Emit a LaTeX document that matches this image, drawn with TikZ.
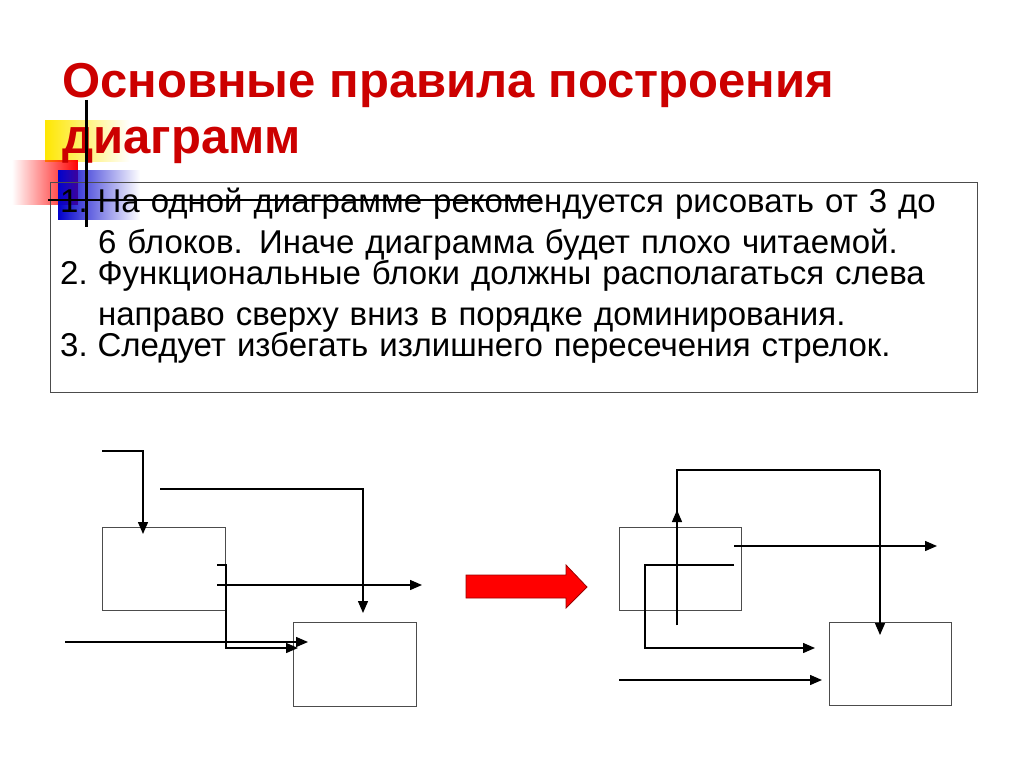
\documentclass[tikz,border=0pt]{standalone}
\usepackage{fontspec}
\setmainfont{Liberation Sans}
\usetikzlibrary{arrows.meta,fadings}
\definecolor{tred}{RGB}{204,0,0}
\tikzset{
  blk/.style={draw=black!70,line width=0.9pt},
  con/.style={line width=1.4pt,-{Triangle[length=12pt,width=10pt]}},
  ln/.style={line width=1.4pt},
  item/.style={anchor=north west,inner sep=0pt,align=left,font=\fontsize{33}{41}\selectfont,text width=900pt},
  ttl/.style={anchor=west,text=tred,font=\bfseries\fontsize{49}{58}\selectfont,inner sep=0pt},
}
\begin{document}
\begin{tikzpicture}[x=1pt,y=-1pt]
\useasboundingbox (0,0) rectangle (1024,767);
% decoration
\fill[yellow!90!orange,path fading=east] (45,120) rectangle (130,162);
\fill[red,path fading=west] (12,160) rectangle (78,205);
\fill[blue!80!black,path fading=east] (58,170) rectangle (140,220);
% title
\node[ttl] (t1) at (62,85) {Основные правила построения};
\node[ttl] (t2) at (62,145) {диаграмм};
% text box
\node[draw=black!70,line width=0.8pt,minimum width=927pt,minimum height=210pt,anchor=north west,inner sep=0pt] (box) at (50,182) {};
\node[item] (i1) at (60,188) {1.\hspace{0.3em}На одной диаграмме рекомендуется рисовать от 3 до\\\hspace{1.15em}6 блоков. Иначе диаграмма будет плохо читаемой.};
\node[item] (i2) at (60,260) {2.\hspace{0.3em}Функциональные блоки должны располагаться слева\\\hspace{1.15em}направо сверху вниз в порядке доминирования.};
\node[item] (i3) at (60,332) {3.\hspace{0.3em}Следует избегать излишнего пересечения стрелок.};
% crosshair lines
\draw[line width=3pt] (86,100) -- (86,227);
\draw[line width=2.5pt] (48,200) -- (540,200);
% left diagram
\node[blk,minimum width=123pt,minimum height=83pt,anchor=north west,inner sep=0pt] (A) at (102,527) {};
\node[blk,minimum width=123pt,minimum height=84pt,anchor=north west,inner sep=0pt] (B) at (293,622) {};
\coordinate (a1) at (102,451);
\coordinate (a2) at (160,489);
\coordinate (a3) at (217,585);
\coordinate (a3e) at (422,585);
\coordinate (a4) at (217,565);
\coordinate (a5) at (65,642);
\draw[con] (a1) -- (143,451) -- (143,534);
\draw[con] (a2) -- (363,489) -- (363,613);
\draw[con] (a3) -- (a3e);
\draw[con] (a4) -- (226,565) -- (226,648) -- (298,648);
\draw[con] (a5) -- (308,642);
% big arrow
\filldraw[fill=red,draw=red!60!black,line width=0.8pt] (466,575) -- (566,575) -- (566,565) -- (587,587) -- (566,608) -- (566,598) -- (466,598) -- cycle;
% right diagram
\node[blk,minimum width=122pt,minimum height=83pt,anchor=north west,inner sep=0pt] (C) at (619,527) {};
\node[blk,minimum width=122pt,minimum height=83pt,anchor=north west,inner sep=0pt] (D) at (829,622) {};
\coordinate (c1) at (677,625);
\draw[ln] (c1) -- (677,470) -- (880,470);
\draw[con] (880,470) -- (880,635);
\draw[con] (c1) -- (677,510);
\draw[con] (734,546) -- (937,546);
\draw[con] (734,565) -- (645,565) -- (645,648) -- (815,648);
\draw[con] (619,680) -- (822,680);
\end{tikzpicture}
\end{document}
